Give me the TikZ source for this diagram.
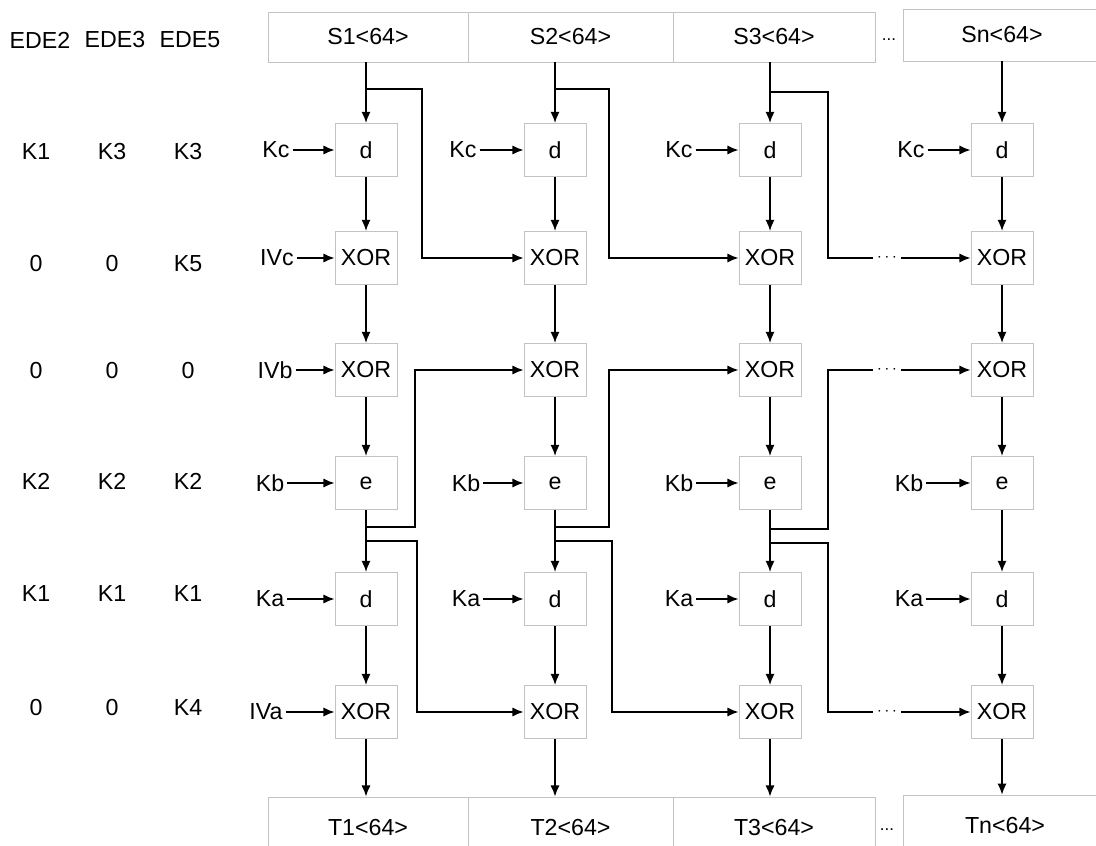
\documentclass[tikz,border=0pt]{standalone}
\usepackage{fontspec}
\setmainfont{Liberation Sans}
\usetikzlibrary{arrows.meta,positioning}
\definecolor{boxgray}{RGB}{195,195,195}
\tikzset{
  box/.style={draw=boxgray, line width=0.6pt, minimum width=1.55cm, minimum height=1.33cm, inner sep=0pt},
  cell/.style={draw=boxgray, line width=0.6pt, minimum height=1.25cm, inner sep=0pt},
  frame/.style={draw=boxgray, line width=0.6pt},
  arr/.style={-{Latex[length=2.8mm,width=2.3mm]}, line width=1.1pt},
  wire/.style={line width=1.1pt},
  lbl/.style={inner sep=2pt},
  dots/.style={inner sep=3pt, font=\fontsize{12}{14}\selectfont}
}

\begin{document}
\begin{tikzpicture}[x=0.025cm, y=-0.025cm, every node/.style={font=\fontsize{16.5}{19}\selectfont}]
\useasboundingbox (0,0) rectangle (1096,846);
\clip (0,0) rectangle (1096,846);

% left table
\node (ede2) at (40,40) {EDE2};
\node (ede3) at (115,40) {EDE3};
\node (ede5) at (190,40) {EDE5};
\node (l11) at (36,152) {K1};  \node (l12) at (112,152) {K3}; \node (l13) at (188,152) {K3};
\node (l21) at (36,264) {0};   \node (l22) at (112,264) {0};  \node (l23) at (188,264) {K5};
\node (l31) at (36,371) {0};   \node (l32) at (112,371) {0};  \node (l33) at (188,371) {0};
\node (l41) at (36,481) {K2};  \node (l42) at (112,481) {K2}; \node (l43) at (188,481) {K2};
\node (l51) at (36,594) {K1};  \node (l52) at (112,594) {K1}; \node (l53) at (188,594) {K1};
\node (l61) at (36,708) {0};   \node (l62) at (112,708) {0};  \node (l63) at (188,708) {K4};

% input blocks
\node[cell, minimum width=5cm] (s1) at (368,37) {S1<64>};
\node[cell, minimum width=5.125cm] (s2) at (570.5,37) {S2<64>};
\node[cell, minimum width=5.05cm] (s3) at (774,37) {S3<64>};
\node[dots] (sd) at (889,40) {...};
\node[minimum height=1.3cm] (sn) at (1002,35) {Sn<64>};
\draw[frame] (1096,9) -- (903,9) -- (903,61) -- (1096,61);

% output blocks
\node[cell, minimum width=5cm, minimum height=1.55cm] (t1) at (368,828) {T1<64>};
\node[cell, minimum width=5.125cm, minimum height=1.55cm] (t2) at (570.5,828) {T2<64>};
\node[cell, minimum width=5.05cm, minimum height=1.55cm] (t3) at (774,828) {T3<64>};
\node[dots] (td) at (887,830) {...};
\node[minimum height=1.55cm] (tn) at (1005,826) {Tn<64>};
\draw[frame] (1096,795) -- (903,795) -- (903,850);

% column 1
\node[box] (dc1) at (366,150) {d};
\node[box] (xc1) at (366,258) {XOR};
\node[box] (xb1) at (366,370) {XOR};
\node[box] (e1) at (366,483) {e};
\node[box] (da1) at (366,599) {d};
\node[box] (xa1) at (366,712) {XOR};
% column 2
\node[box] (dc2) at (555,150) {d};
\node[box] (xc2) at (555,258) {XOR};
\node[box] (xb2) at (555,370) {XOR};
\node[box] (e2) at (555,483) {e};
\node[box] (da2) at (555,599) {d};
\node[box] (xa2) at (555,712) {XOR};
% column 3
\node[box] (dc3) at (770,150) {d};
\node[box] (xc3) at (770,258) {XOR};
\node[box] (xb3) at (770,370) {XOR};
\node[box] (e3) at (770,483) {e};
\node[box] (da3) at (770,599) {d};
\node[box] (xa3) at (770,712) {XOR};
% column n
\node[box] (dc4) at (1002,150) {d};
\node[box] (xc4) at (1002,258) {XOR};
\node[box] (xb4) at (1002,370) {XOR};
\node[box] (e4) at (1002,483) {e};
\node[box] (da4) at (1002,599) {d};
\node[box] (xa4) at (1002,712) {XOR};

% keys and IVs
\node[lbl] (kc1) at (276,150) {Kc};  \draw[arr] (kc1) -- (dc1);
\node[lbl] (ivc) at (277,258) {IVc}; \draw[arr] (ivc) -- (xc1);
\node[lbl] (ivb) at (275,370) {IVb}; \draw[arr] (ivb) -- (xb1);
\node[lbl] (kb1) at (270,483) {Kb};  \draw[arr] (kb1) -- (e1);
\node[lbl] (ka1) at (270,599) {Ka};  \draw[arr] (ka1) -- (da1);
\node[lbl] (iva) at (266,712) {IVa}; \draw[arr] (iva) -- (xa1);
\node[lbl] (kc2) at (463,150) {Kc};  \draw[arr] (kc2) -- (dc2);
\node[lbl] (kb2) at (466,483) {Kb};  \draw[arr] (kb2) -- (e2);
\node[lbl] (ka2) at (466,599) {Ka};  \draw[arr] (ka2) -- (da2);
\node[lbl] (kc3) at (679,150) {Kc};  \draw[arr] (kc3) -- (dc3);
\node[lbl] (kb3) at (679,483) {Kb};  \draw[arr] (kb3) -- (e3);
\node[lbl] (ka3) at (679,599) {Ka};  \draw[arr] (ka3) -- (da3);
\node[lbl] (kc4) at (911,150) {Kc};  \draw[arr] (kc4) -- (dc4);
\node[lbl] (kb4) at (909,483) {Kb};  \draw[arr] (kb4) -- (e4);
\node[lbl] (ka4) at (909,599) {Ka};  \draw[arr] (ka4) -- (da4);

% main data path
\draw[arr] (dc1 |- s1.south) -- (dc1);
\draw[arr] (dc1) -- (xc1);
\draw[arr] (xc1) -- (xb1);
\draw[arr] (xb1) -- (e1);
\draw[arr] (e1) -- (da1);
\draw[arr] (da1) -- (xa1);
\draw[arr] (xa1) -- (xa1 |- t1.north);
\draw[arr] (dc2 |- s2.south) -- (dc2);
\draw[arr] (dc2) -- (xc2);
\draw[arr] (xc2) -- (xb2);
\draw[arr] (xb2) -- (e2);
\draw[arr] (e2) -- (da2);
\draw[arr] (da2) -- (xa2);
\draw[arr] (xa2) -- (xa2 |- t2.north);
\draw[arr] (dc3 |- s3.south) -- (dc3);
\draw[arr] (dc3) -- (xc3);
\draw[arr] (xc3) -- (xb3);
\draw[arr] (xb3) -- (e3);
\draw[arr] (e3) -- (da3);
\draw[arr] (da3) -- (xa3);
\draw[arr] (xa3) -- (xa3 |- t3.north);
\draw[arr] (dc4 |- sn.south) -- (dc4);
\draw[arr] (dc4) -- (xc4);
\draw[arr] (xc4) -- (xb4);
\draw[arr] (xb4) -- (e4);
\draw[arr] (e4) -- (da4);
\draw[arr] (da4) -- (xa4);
\draw[arr] (xa4) -- (xa4 |- tn.north);

% chaining to the next block
\coordinate (bs1) at (366,89);
\coordinate (bs2) at (555,89);
\coordinate (bs3) at (770,92);
\coordinate (bu1) at (366,527);
\coordinate (bl1) at (366,541);
\coordinate (bu2) at (555,527);
\coordinate (bl2) at (555,541);
\coordinate (bu3) at (770,529);
\coordinate (bl3) at (770,543);
\node[dots] (dx2) at (887,258) {$\cdots$};
\node[dots] (dx3) at (887,370) {$\cdots$};
\node[dots] (dx6) at (887,712) {$\cdots$};
\draw[arr] (bs1) -- ++(56,0) |- (xc2);
\draw[arr] (bs2) -- ++(54,0) |- (xc3);
\draw[wire] (bs3) -- ++(58,0) |- (dx2);
\draw[arr] (dx2) -- (xc4);
\draw[arr] (bu1) -- ++(49,0) |- (xb2);
\draw[arr] (bl1) -- ++(51,0) |- (xa2);
\draw[arr] (bu2) -- ++(54,0) |- (xb3);
\draw[arr] (bl2) -- ++(57,0) |- (xa3);
\draw[wire] (bu3) -- ++(58,0) |- (dx3);
\draw[arr] (dx3) -- (xb4);
\draw[wire] (bl3) -- ++(58,0) |- (dx6);
\draw[arr] (dx6) -- (xa4);
\end{tikzpicture}
\end{document}
